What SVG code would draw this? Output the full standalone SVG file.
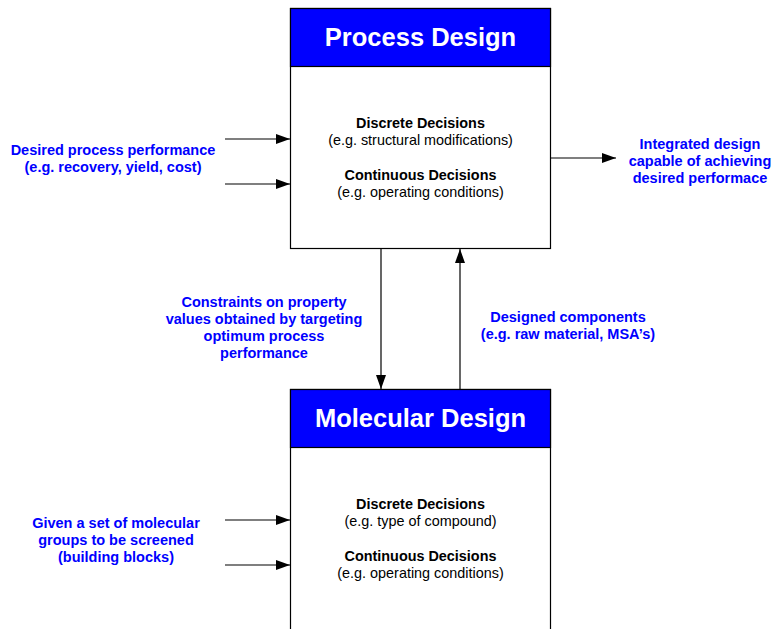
<svg xmlns="http://www.w3.org/2000/svg" width="775" height="629" viewBox="0 0 775 629">
<style>
.box{fill:#fff;stroke:#000;stroke-width:1.2}
.hdr{fill:#0000ff;stroke:#000;stroke-width:1.2}
.title{font-family:"Liberation Sans",Arial,sans-serif;font-weight:bold;font-size:25.5px;fill:#fff;text-anchor:middle}
.b{font-family:"Liberation Sans",Arial,sans-serif;font-weight:bold;font-size:14.4px;fill:#000;text-anchor:middle}
.n{font-family:"Liberation Sans",Arial,sans-serif;font-size:14.4px;fill:#000;text-anchor:middle}
.lbl{font-family:"Liberation Sans",Arial,sans-serif;font-weight:bold;font-size:14.5px;fill:#0000ff;text-anchor:middle}
.c{stroke:#000;stroke-width:1.2;fill:none;marker-end:url(#ah)}
</style>
<defs>
<marker id="ah" markerWidth="14" markerHeight="10" refX="14" refY="5" orient="auto" markerUnits="userSpaceOnUse">
<path d="M0,0 L14,5 L0,10 z" fill="#000"/>
</marker>
</defs>
<rect width="775" height="629" fill="#fff"/>
<g id="process">
<rect class="box" x="290.5" y="8.5" width="260" height="240"/>
<rect class="hdr" x="290.5" y="8.5" width="260" height="58"/>
<text class="title" x="420.5" y="46">Process Design</text>
<text class="b" x="420.5" y="128">Discrete Decisions</text>
<text class="n" x="420.5" y="145">(e.g. structural modifications)</text>
<text class="b" x="420.5" y="180">Continuous Decisions</text>
<text class="n" x="420.5" y="197">(e.g. operating conditions)</text>
</g>
<g id="molecular">
<rect class="box" x="290.5" y="389.5" width="260" height="250"/>
<rect class="hdr" x="290.5" y="389.5" width="260" height="58"/>
<text class="title" x="420.5" y="427">Molecular Design</text>
<text class="b" x="420.5" y="509">Discrete Decisions</text>
<text class="n" x="420.5" y="526">(e.g. type of compound)</text>
<text class="b" x="420.5" y="561">Continuous Decisions</text>
<text class="n" x="420.5" y="578">(e.g. operating conditions)</text>
</g>
<g id="labels">
<text class="lbl" x="113" y="155">Desired process performance</text>
<text class="lbl" x="113" y="172">(e.g. recovery, yield, cost)</text>
<text class="lbl" x="700" y="149">Integrated design</text>
<text class="lbl" x="700" y="166">capable of achieving</text>
<text class="lbl" x="700" y="183">desired performace</text>
<text class="lbl" x="264" y="307">Constraints on property</text>
<text class="lbl" x="264" y="324">values obtained by targeting</text>
<text class="lbl" x="264" y="341">optimum process</text>
<text class="lbl" x="264" y="358">performance</text>
<text class="lbl" x="568" y="322">Designed components</text>
<text class="lbl" x="568" y="339">(e.g. raw material, MSA’s)</text>
<text class="lbl" x="116" y="528">Given a set of molecular</text>
<text class="lbl" x="116" y="545">groups to be screened</text>
<text class="lbl" x="116" y="562">(building blocks)</text>
</g>
<g id="connectors">
<line class="c" x1="225" y1="139" x2="290" y2="139"/>
<line class="c" x1="225" y1="184" x2="290" y2="184"/>
<line class="c" x1="551" y1="158" x2="616" y2="158"/>
<line class="c" x1="381" y1="249" x2="381" y2="389"/>
<line class="c" x1="460" y1="389" x2="460" y2="249"/>
<line class="c" x1="225" y1="520" x2="290" y2="520"/>
<line class="c" x1="225" y1="565" x2="290" y2="565"/>
</g>
</svg>
